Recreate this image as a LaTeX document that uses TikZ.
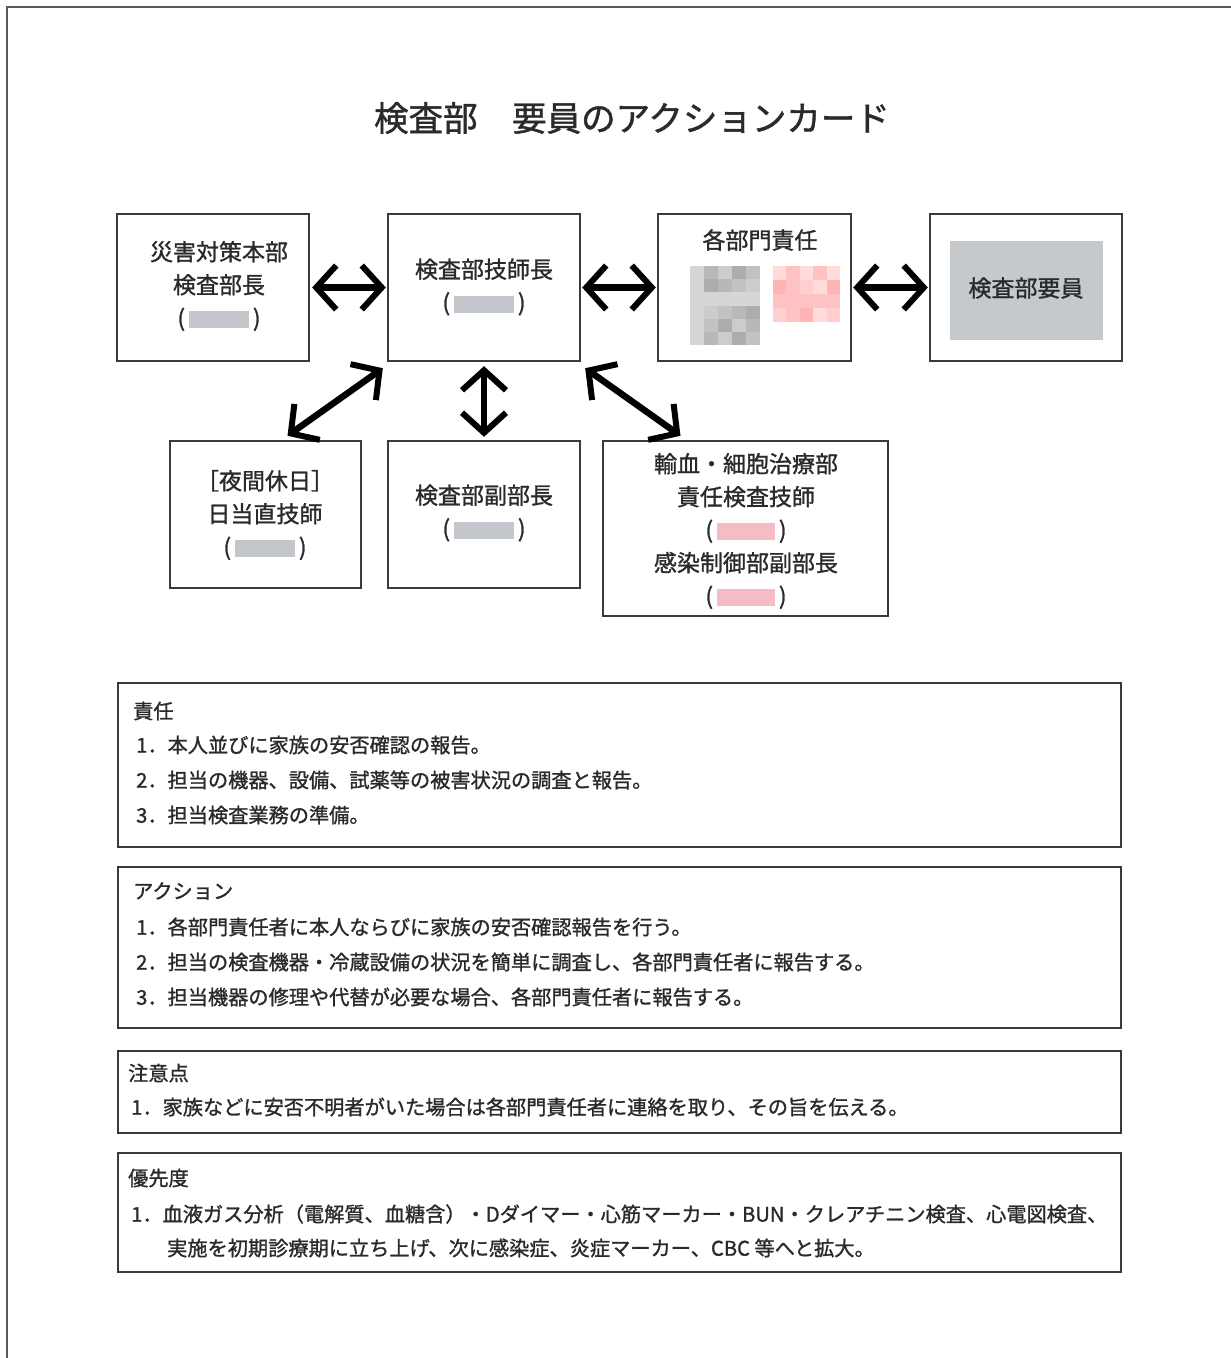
\documentclass[tikz,border=0pt]{standalone}
\usepackage{fontspec}
\newfontfamily\jp[FakeBold=1.2]{Noto Sans CJK JP}
\usetikzlibrary{arrows.meta,calc,shadows}
\definecolor{boxline}{HTML}{3A3A3A}
\definecolor{txt}{HTML}{2A2A2A}
\definecolor{phgray}{HTML}{C3C7CB}
\definecolor{phpink}{HTML}{F5BCC6}
\definecolor{fillgray}{HTML}{C6C9CC}
\newcommand{\phgr}[1][60]{(\,{\color{phgray}\rule[-2pt]{#1pt}{17pt}}\,)}
\newcommand{\phpk}[1][58]{(\,{\color{phpink}\rule[-2pt]{#1pt}{17pt}}\,)}
\begin{document}
\begin{tikzpicture}[x=1pt,y=-1pt,
  card/.style={draw=boxline, line width=2.4pt, fill=white, inner sep=0pt,
     drop shadow={shadow xshift=1.2pt, shadow yshift=-1.2pt, fill=black, opacity=0.35}},
  lbl/.style={font=\jp\fontsize{23}{33}\selectfont, text=txt, align=center, inner sep=0pt},
  body/.style={font=\jp\fontsize{20.2}{24}\selectfont, text=txt, anchor=west, inner sep=0pt},
  biarrow/.style={line width=6.5pt, line cap=round, line join=round, draw=black,
     {Straight Barb[length=20pt,width=44pt,line width=6pt]}-{Straight Barb[length=20pt,width=44pt,line width=6pt]}}
]
\useasboundingbox (0,0) rectangle (1231,1358);
\fill[white] (0,0) rectangle (1231,1358);
\draw[line width=2pt, draw=black!65] (1231,7) -- (7,7) -- (7,1358);

% title
\node[font=\jp\fontsize{34.5}{40}\selectfont, text=txt, inner sep=0pt] (title) at (632,118) {検査部　要員のアクションカード};

% top row
\node[card, minimum width=192pt, minimum height=147pt] (A) at (213,287.5) {};
\node[lbl] (Atxt) at (219,286) {災害対策本部\\検査部長\\\phgr};

\node[card, minimum width=192pt, minimum height=147pt] (B) at (484,287.5) {};
\node[lbl] (Btxt) at (484,287) {検査部技師長\\\phgr};

\node[card, minimum width=193pt, minimum height=147pt] (C) at (754.5,287.5) {};
\node[lbl] (Ctxt) at (760,240) {各部門責任};
% mosaics
\foreach \i in {0,...,4}{
  \foreach \j in {0,...,5}{
    \pgfmathsetmacro{\sh}{16+mod(3*\i+5*\j+\i*\j,5)*4}
    \fill[black!\sh] (690+\i*14,266+\j*13.2) rectangle ++(14,13.2);
  }
}
\foreach \i in {0,...,4}{
  \foreach \j in {0,...,3}{
    \pgfmathsetmacro{\sh}{14+mod(2*\i+3*\j+\i*\j,4)*5}
    \fill[red!\sh] (773+\i*13.4,266+\j*14) rectangle ++(13.4,14);
  }
}

\node[card, minimum width=192pt, minimum height=147pt] (D) at (1026,287.5) {};
\fill[fillgray] (950,241) rectangle (1103,340);
\node[lbl] (Dtxt) at (1026,288) {検査部要員};

% bottom row
\node[card, minimum width=191pt, minimum height=147pt] (E) at (265.5,514.5) {};
\node[lbl] (Etxt) at (265,515) {［夜間休日］\\日当直技師\\\phgr};

\node[card, minimum width=192pt, minimum height=147pt] (F) at (484,514.5) {};
\node[lbl] (Ftxt) at (484,513) {検査部副部長\\\phgr};

\node[card, minimum width=285pt, minimum height=175pt] (G) at (745.5,528.5) {};
\node[lbl] (Gtxt) at (746,531) {輸血・細胞治療部\\責任検査技師\\\phpk\\感染制御部副部長\\\phpk};

% arrows
\draw[biarrow, shorten <=2pt, shorten >=1pt] (A) -- (B);
\draw[biarrow, shorten <=1pt, shorten >=1pt] (B) -- (C);
\draw[biarrow, shorten <=1pt, shorten >=1pt] (C) -- (D);
\draw[biarrow] ([shift={(-4,6)}]B.south west) -- ([xshift=22pt,yshift=4pt]E.north);
\draw[biarrow] ([yshift=-4pt]B.south) -- ([yshift=3pt]F.north);
\draw[biarrow] ([shift={(4,6)}]B.south east) -- ([xshift=-65pt,yshift=4pt]G.north);

% text boxes
\node[card, minimum width=1003pt, minimum height=164pt] (R1) at (619.5,765) {};
\node[body] (R1h) at (133,711) {責任};
\node[body] (R1a) at (136,745) {1．本人並びに家族の安否確認の報告。};
\node[body] (R1b) at (136,780) {2．担当の機器、設備、試薬等の被害状況の調査と報告。};
\node[body] (R1c) at (136,815) {3．担当検査業務の準備。};

\node[card, minimum width=1003pt, minimum height=161pt] (R2) at (619.5,947.5) {};
\node[body] (R2h) at (133,891) {アクション};
\node[body] (R2a) at (136,927) {1．各部門責任者に本人ならびに家族の安否確認報告を行う。};
\node[body] (R2b) at (136,962) {2．担当の検査機器・冷蔵設備の状況を簡単に調査し、各部門責任者に報告する。};
\node[body] (R2c) at (136,997) {3．担当機器の修理や代替が必要な場合、各部門責任者に報告する。};

\node[card, minimum width=1003pt, minimum height=82pt] (R3) at (619.5,1092) {};
\node[body] (R3h) at (128,1073) {注意点};
\node[body] (R3a) at (131,1107) {1．家族などに安否不明者がいた場合は各部門責任者に連絡を取り、その旨を伝える。};

\node[card, minimum width=1003pt, minimum height=119pt] (R4) at (619.5,1212.5) {};
\node[body] (R4h) at (128,1178) {優先度};
\node[body] (R4a) at (131,1214) {1．血液ガス分析（電解質、血糖含）・Dダイマー・心筋マーカー・BUN・クレアチニン検査、心電図検査、};
\node[body] (R4b) at (167,1248) {実施を初期診療期に立ち上げ、次に感染症、炎症マーカー、CBC 等へと拡大。};
\end{tikzpicture}
\end{document}
